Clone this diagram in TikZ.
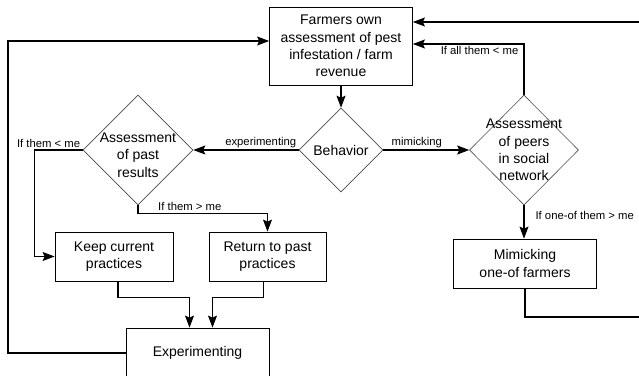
\documentclass[tikz,border=0pt]{standalone}
\usepackage{fontspec}
\setmainfont{Liberation Sans}
\usetikzlibrary{arrows.meta,shapes.geometric,calc}
\tikzset{blk/.style={draw,line width=.8pt,align=center,inner sep=2pt,font=\fontsize{14}{17.3}\selectfont},
 dec/.style={draw=black!70,line width=.6pt,diamond,inner sep=0pt},
 dtxt/.style={font=\fontsize{14}{17.3}\selectfont,align=center,inner sep=0pt},
 lbl/.style={font=\fontsize{11.3}{13}\selectfont,inner sep=2pt},
 arr/.style={-{Stealth[length=12pt,width=9pt,inset=2pt]},line width=1.1pt}}

\begin{document}
\begin{tikzpicture}[x=1pt,y=-1pt]
\useasboundingbox (0,0) rectangle (639,375);
\node[blk,minimum width=143pt,minimum height=78pt] (farm) at (341,46) {Farmers own\\assessment of pest\\infestation / farm\\revenue};
\node[dec,minimum width=84pt,minimum height=84pt,label={[dtxt]center:Behavior}] (beh) at (341,150) {};
\node[dec,minimum width=110pt,minimum height=110pt,label={[dtxt,yshift=-5pt]center:Assessment\\of past\\results}] (past) at (138,150) {};
\node[dec,minimum width=109pt,minimum height=110pt,label={[dtxt]center:Assessment\\of peers\\in social\\network}] (peer) at (524,150) {};
\node[blk,minimum width=118pt,minimum height=49pt] (keep) at (114,256.5) {Keep current\\practices};
\node[blk,minimum width=117pt,minimum height=49pt] (ret) at (267.5,256.5) {Return to past\\practices};
\node[blk,minimum width=143pt,minimum height=49pt] (mimic) at (525,263.5) {Mimicking\\one-of farmers};
\node[blk,minimum width=143pt,minimum height=50pt] (exp) at (197.5,353) {Experimenting};
\coordinate (lt) at (8,41);
\coordinate (rt) at (642,22);
\coordinate (rb) at (642,317);
% connectors
\draw[arr] (farm.south) -- (beh.north);
\draw[arr] (beh.west) -- node[lbl,above,pos=.36]{experimenting} (past.east);
\draw[arr] (beh.east) -- node[lbl,above,pos=.39]{mimicking} (peer.west);
\draw[arr] (past.west) node[lbl,anchor=south east]{If them < me} -- ++(-48,0) |- (keep.west);
\draw[arr] (past.south) -- ++(0,8) -| node[lbl,above,pos=.2]{If them > me} (ret.north);
\draw[arr] (peer.north) |- node[lbl,below,pos=.7]{If all them < me} ([yshift=2pt]farm.east);
\draw[arr] (peer.south) -- node[lbl,right=9pt,pos=.3]{If one-of them > me} (peer.south |- mimic.north);
\draw[arr] (mimic.south) |- (rb) -- (rt) -- (rt -| farm.east);
\draw[arr] (exp.west) -| (lt) -- (lt -| farm.west);
\foreach \s/\a/\d in {keep/4/-8,ret/-4/15}{\draw[arr] ([xshift=\a pt]\s.south) -- ++(0,16) -| ([xshift=\d pt]exp.north);}
\end{tikzpicture}
\end{document}
